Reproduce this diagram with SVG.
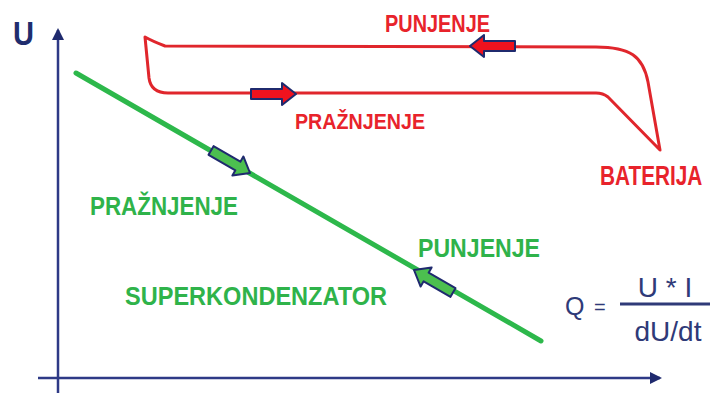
<svg xmlns="http://www.w3.org/2000/svg" width="714" height="393" viewBox="0 0 714 393">
<style>
.lbl{font-family:"Liberation Sans",Arial,sans-serif;font-weight:bold}
.red{fill:#e8232b}
.grn{fill:#2fb34a}
.frm{font-family:"Liberation Sans",Arial,sans-serif;fill:#2f3a78}
.ax{stroke:#2e3a86;stroke-width:2.5;fill:none}
.blk{stroke:#1f2a6e;stroke-width:2;stroke-linejoin:round}
</style>
<defs>
<path id="blockArrow" d="M0,0 L-14,-11 L-14,-5 L-45,-5 L-45,5 L-14,5 L-14,11 Z"/>
<marker id="axHead" viewBox="0 0 12 12" refX="10" refY="6" markerWidth="12" markerHeight="12" markerUnits="userSpaceOnUse" orient="auto">
<path d="M0,0 L12,6 L0,12 Z" fill="#1f2a6e"/>
</marker>
</defs>
<rect width="714" height="393" fill="#ffffff"/>
<g id="connectors">
<line id="axis-y" class="ax" x1="58" y1="393" x2="58" y2="30" marker-end="url(#axHead)"/>
<line id="axis-x" class="ax" x1="38" y1="378" x2="660" y2="378" marker-end="url(#axHead)"/>
<path id="battery-curve" d="M145,37 Q152,41 165,46 L596,47 C630,47 643,56 648,82 L660,150 L608,97 Q603,93 596,93 L168,93 Q151,93 149,78 Z" fill="none" stroke="#e0262c" stroke-width="3" stroke-linejoin="round"/>
<line id="supercap-line" x1="76" y1="73" x2="541" y2="341" stroke="#2db84b" stroke-width="5" stroke-linecap="round"/>
<use href="#blockArrow" class="blk" fill="#f0121e" transform="translate(296,94)"/>
<use href="#blockArrow" class="blk" fill="#f0121e" transform="translate(470,46) rotate(180)"/>
<use href="#blockArrow" class="blk" fill="#4cbf4f" transform="translate(250,173) rotate(30)"/>
<use href="#blockArrow" class="blk" fill="#4cbf4f" transform="translate(414,270) rotate(210)"/>
</g>
<g id="axis-label-u">
<text x="13" y="45" class="lbl" font-size="34" fill="#1f2d6e" textLength="21" lengthAdjust="spacingAndGlyphs">U</text>
</g>
<g id="battery-labels">
<text x="385" y="32" class="lbl red" font-size="23" textLength="105" lengthAdjust="spacingAndGlyphs">PUNJENJE</text>
<text x="295" y="129" class="lbl red" font-size="22" textLength="130" lengthAdjust="spacingAndGlyphs">PRAŽNJENJE</text>
<text transform="translate(600,185) scale(0.77,1)" class="lbl red" font-size="27">BATERIJA</text>
</g>
<g id="supercap-labels">
<text x="90" y="215" class="lbl grn" font-size="25" textLength="148" lengthAdjust="spacingAndGlyphs">PRAŽNJENJE</text>
<text x="418" y="257" class="lbl grn" font-size="26" textLength="122" lengthAdjust="spacingAndGlyphs">PUNJENJE</text>
<text x="125" y="305" class="lbl grn" font-size="25" textLength="262" lengthAdjust="spacingAndGlyphs">SUPERKONDENZATOR</text>
</g>
<g id="formula">
<text x="565" y="315" class="frm" font-size="25">Q</text>
<text x="594" y="314" class="frm" font-size="20">=</text>
<line x1="620" y1="304" x2="710" y2="304" stroke="#2f3a78" stroke-width="3"/>
<text x="665" y="297" class="frm" font-size="28" text-anchor="middle">U * I</text>
<text x="668" y="341" class="frm" font-size="28" text-anchor="middle">dU/dt</text>
</g>
</svg>
